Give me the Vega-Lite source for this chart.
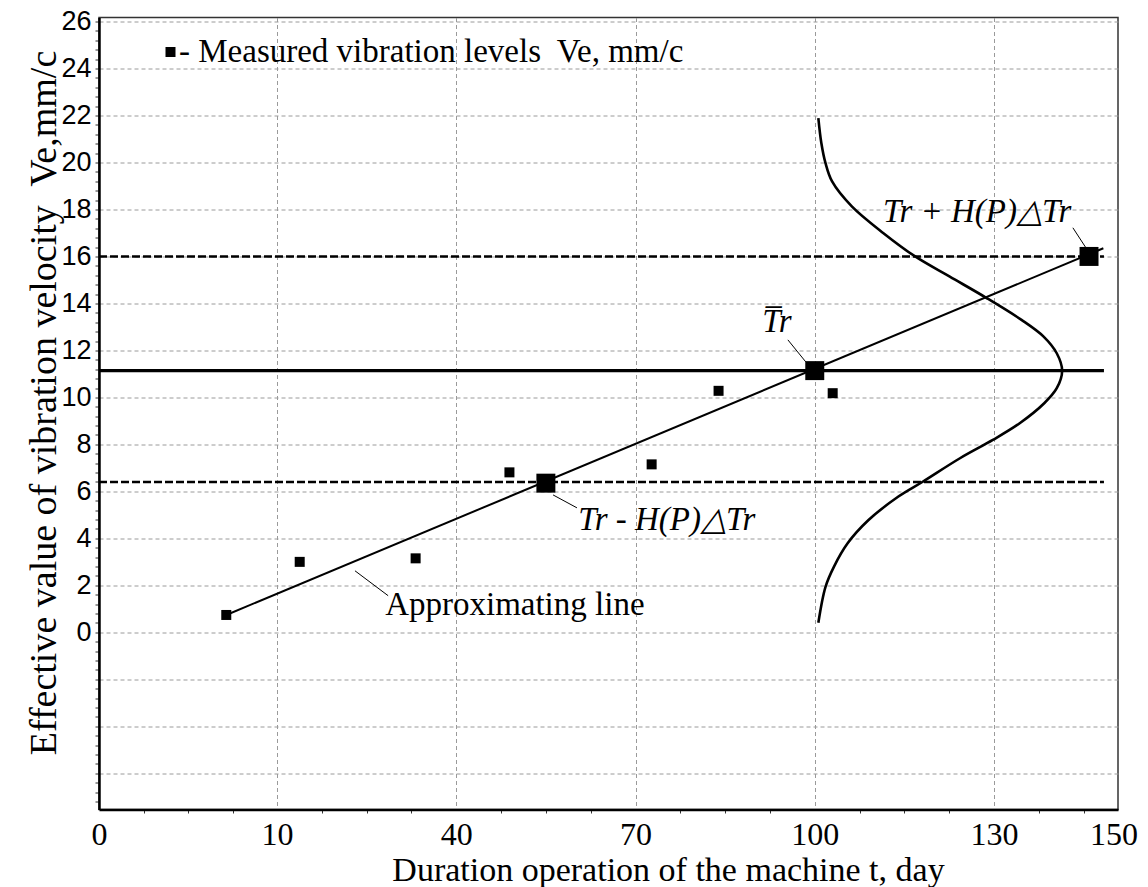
{
  "$schema": "https://vega.github.io/schema/vega-lite/v6.json",
  "width": 1019,
  "height": 792,
  "autosize": {"type": "none"},
  "padding": {"left": 99, "top": 17.5, "right": 30, "bottom": 77.5},
  "background": "white",
  "config": {
    "view": {"stroke": "#333333", "strokeWidth": 1.5},
    "axis": {"labelColor": "black", "titleColor": "black", "titleFontWeight": "normal"}
  },
  "datasets": {
    "measured": [
      {"x": 7.15, "y": 0.74, "series": "- Measured vibration levels\u00a0 Ve, mm/c"},
      {"x": 13.8, "y": 3.0, "series": "- Measured vibration levels\u00a0 Ve, mm/c"},
      {"x": 33.2, "y": 3.15, "series": "- Measured vibration levels\u00a0 Ve, mm/c"},
      {"x": 48.9, "y": 6.81, "series": "- Measured vibration levels\u00a0 Ve, mm/c"},
      {"x": 72.7, "y": 7.15, "series": "- Measured vibration levels\u00a0 Ve, mm/c"},
      {"x": 83.9, "y": 10.28, "series": "- Measured vibration levels\u00a0 Ve, mm/c"},
      {"x": 103.0, "y": 10.18, "series": "- Measured vibration levels\u00a0 Ve, mm/c"}
    ],
    "key": [
      {"x": 55.0, "y": 6.35},
      {"x": 100.0, "y": 11.14},
      {"x": 145.9, "y": 16.0}
    ],
    "approx": [
      {"x": 7.15, "y": 0.74},
      {"x": 148.3, "y": 16.35}
    ],
    "mean": [
      {"x": 0, "x2": 148.4, "y": 11.14}
    ],
    "limits": [
      {"x": 0, "x2": 148.4, "y": 16.0},
      {"x": 0, "x2": 148.4, "y": 6.4}
    ],
    "gauss": [
      {"i": 1, "x": 100.6, "y": 21.89},
      {"i": 2, "x": 101.1, "y": 20.83},
      {"i": 3, "x": 101.8, "y": 19.97},
      {"i": 4, "x": 102.9, "y": 19.19},
      {"i": 5, "x": 106.2, "y": 18.13},
      {"i": 6, "x": 111.5, "y": 16.99},
      {"i": 7, "x": 116.8, "y": 16.0},
      {"i": 8, "x": 122.6, "y": 15.14},
      {"i": 9, "x": 128.7, "y": 14.24},
      {"i": 10, "x": 134.6, "y": 13.3},
      {"i": 11, "x": 138.3, "y": 12.59},
      {"i": 12, "x": 140.5, "y": 11.88},
      {"i": 13, "x": 141.4, "y": 11.14},
      {"i": 14, "x": 140.5, "y": 10.39},
      {"i": 15, "x": 138.4, "y": 9.75},
      {"i": 16, "x": 134.3, "y": 8.9},
      {"i": 17, "x": 129.8, "y": 8.19},
      {"i": 18, "x": 124.3, "y": 7.41},
      {"i": 19, "x": 118.0, "y": 6.4},
      {"i": 20, "x": 114.0, "y": 5.78},
      {"i": 21, "x": 109.0, "y": 4.78},
      {"i": 22, "x": 105.5, "y": 3.79},
      {"i": 23, "x": 103.2, "y": 2.79},
      {"i": 24, "x": 101.8, "y": 1.94},
      {"i": 25, "x": 100.6, "y": 0.41}
    ],
    "leaders": [
      {"x": 143.2, "y": 17.22, "x2": 145.4, "y2": 16.36},
      {"x": 95.5, "y": 12.45, "x2": 98.5, "y2": 11.51},
      {"x": 56.2, "y": 5.85, "x2": 60.2, "y2": 5.3},
      {"x": 23.05, "y": 2.62, "x2": 28.6, "y2": 1.56}
    ],
    "italic_labels": [
      {"x": 111.4, "y": 17.47, "text": "Tr + H(P)△Tr"},
      {"x": 91.2, "y": 12.8, "text": "T̅r"},
      {"x": 60.4, "y": 4.36, "text": "Tr - H(P)△Tr"}
    ],
    "plain_labels": [
      {"x": 28.1, "y": 0.74, "text": "Approximating line"}
    ]
  },
  "encoding": {
    "x": {
      "field": "x",
      "type": "quantitative",
      "scale": {"domain": [0, 10, 150.75], "range": [0, 178, 1019], "nice": false, "zero": false},
      "axis": {
        "title": "Duration operation of the machine t, day",
        "titleFont": "Liberation Serif",
        "titleFontSize": 34,
        "titleX": 569,
        "titleY": 71,
        "titleBaseline": "alphabetic",
        "titleAnchor": null,
        "titleAlign": "center",
        "values": [0, 2.5, 5, 7.5, 10, 17.5, 25, 32.5, 40, 47.5, 55, 62.5, 70, 77.5, 85, 92.5, 100, 107.5, 115, 122.5, 130, 137.5, 145, 150],
        "labelExpr": "indexof([0,10,40,70,100,130,150], datum.value) >= 0 ? datum.label : ''",
        "labelFont": "Liberation Serif",
        "labelFontSize": 32,
        "labelPadding": 6,
        "labelOverlap": false,
        "labelFlush": false,
        "labelBound": false,
        "domainColor": "black",
        "domainWidth": 2.5,
        "tickSize": 3.5,
        "tickColor": "#333333",
        "tickWidth": 1,
        "tickOpacity": {"condition": {"test": "indexof([0,10,40,70,100,130,150], datum.value) >= 0", "value": 0}, "value": 1},
        "grid": true,
        "gridColor": "#9a9a9a",
        "gridDash": [4, 3],
        "gridWidth": 1,
        "gridOpacity": {"condition": {"test": "indexof([10,40,70,100,130], datum.value) >= 0", "value": 1}, "value": 0}
      }
    },
    "y": {
      "field": "y",
      "type": "quantitative",
      "scale": {"domain": [-7.54, 26.17], "nice": false, "zero": false},
      "axis": {
        "title": "Effective value of vibration velocity\u00a0 Ve,mm/c",
        "titleFont": "Liberation Serif",
        "titleFontSize": 38,
        "titleX": -44,
        "titleY": 385,
        "titleAngle": -90,
        "titleBaseline": "alphabetic",
        "titleAlign": "center",
        "titleAnchor": null,
        "values": [-7.2,-6.8,-6.4,-6,-5.6,-5.2,-4.8,-4.4,-4,-3.6,-3.2,-2.8,-2.4,-2,-1.6,-1.2,-0.8,-0.4,0,0.4,0.8,1.2,1.6,2,2.4,2.8,3.2,3.6,4,4.4,4.8,5.2,5.6,6,6.4,6.8,7.2,7.6,8,8.4,8.8,9.2,9.6,10,10.4,10.8,11.2,11.6,12,12.4,12.8,13.2,13.6,14,14.4,14.8,15.2,15.6,16,16.4,16.8,17.2,17.6,18,18.4,18.8,19.2,19.6,20,20.4,20.8,21.2,21.6,22,22.4,22.8,23.2,23.6,24,24.4,24.8,25.2,25.6,26],
        "labelExpr": "(abs(datum.value/2 - round(datum.value/2)) < 0.001 && datum.value > -0.001) ? format(round(datum.value), 'd') : ''",
        "labelFont": "Liberation Sans",
        "labelFontSize": 27,
        "labelPadding": 4,
        "labelOverlap": false,
        "labelFlush": false,
        "labelBound": false,
        "domainColor": "black",
        "domainWidth": 2.5,
        "tickSize": 4,
        "tickColor": "#333333",
        "tickWidth": 1,
        "grid": true,
        "gridColor": "#9a9a9a",
        "gridDash": [4, 3],
        "gridWidth": 1,
        "gridOpacity": {"condition": {"test": "abs(datum.value/2 - round(datum.value/2)) < 0.001", "value": 1}, "value": 0}
      }
    }
  },
  "layer": [
    {
      "data": {"name": "limits"},
      "mark": {"type": "rule", "color": "black", "strokeWidth": 2.5, "strokeDash": [8, 3]},
      "encoding": {"x2": {"field": "x2"}}
    },
    {
      "data": {"name": "mean"},
      "mark": {"type": "rule", "color": "black", "strokeWidth": 3.3},
      "encoding": {"x2": {"field": "x2"}}
    },
    {
      "data": {"name": "approx"},
      "mark": {"type": "line", "color": "black", "strokeWidth": 2},
      "encoding": {}
    },
    {
      "data": {"name": "gauss"},
      "mark": {"type": "line", "color": "black", "strokeWidth": 2.6, "interpolate": "catmull-rom"},
      "encoding": {"order": {"field": "i", "type": "quantitative"}}
    },
    {
      "data": {"name": "leaders"},
      "mark": {"type": "rule", "color": "black", "strokeWidth": 1},
      "encoding": {"x2": {"field": "x2"}, "y2": {"field": "y2"}}
    },
    {
      "data": {"name": "measured"},
      "mark": {"type": "point", "filled": true, "opacity": 1, "color": "black", "size": 100, "strokeWidth": 0},
      "encoding": {
        "shape": {
          "field": "series",
          "type": "nominal",
          "scale": {"range": ["square"]},
          "legend": {
            "title": null,
            "orient": "none",
            "legendX": 55,
            "legendY": 18,
            "padding": 0,
            "labelFont": "Liberation Serif",
            "labelFontSize": 33,
            "labelColor": "black",
            "labelLimit": 0,
            "labelOffset": -8,
            "symbolType": "square",
            "symbolSize": 100,
            "symbolFillColor": "black",
            "symbolStrokeColor": "black",
            "symbolStrokeWidth": 0
          }
        }
      }
    },
    {
      "data": {"name": "key"},
      "mark": {"type": "square", "filled": true, "opacity": 1, "color": "black", "size": 360, "strokeWidth": 0},
      "encoding": {}
    },
    {
      "data": {"name": "italic_labels"},
      "mark": {"type": "text", "font": "Liberation Serif", "fontStyle": "italic", "fontSize": 33, "align": "left", "baseline": "alphabetic", "color": "black"},
      "encoding": {"text": {"field": "text"}}
    },
    {
      "data": {"name": "plain_labels"},
      "mark": {"type": "text", "font": "Liberation Serif", "fontSize": 33, "align": "left", "baseline": "alphabetic", "color": "black"},
      "encoding": {"text": {"field": "text"}}
    }
  ]
}
